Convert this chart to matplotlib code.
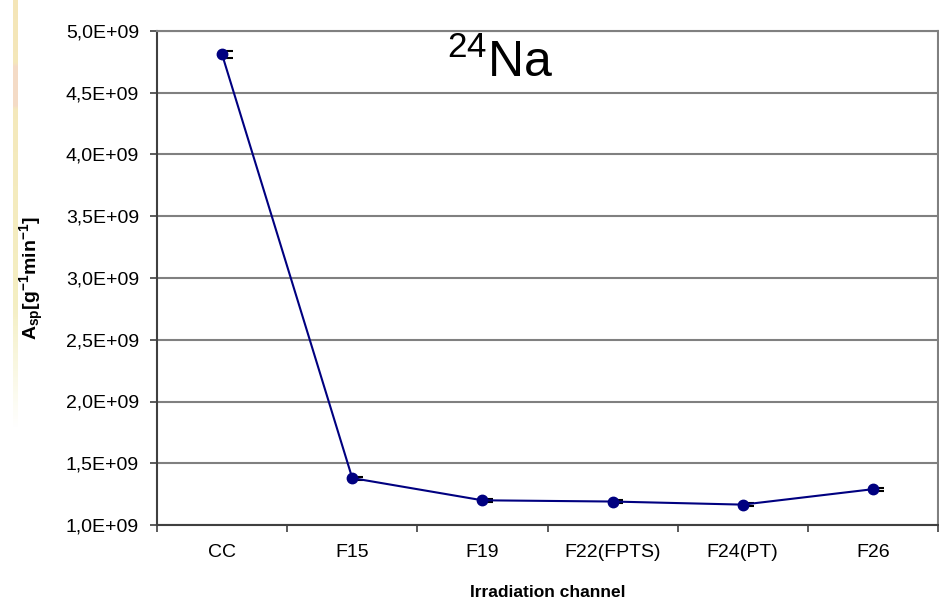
import matplotlib
matplotlib.use("Agg")
import matplotlib.pyplot as plt
import matplotlib.ticker as mtick
import numpy as np

plt.rcParams['font.family'] = ['Liberation Sans', 'DejaVu Sans']
plt.rcParams['mathtext.fontset'] = 'custom'
plt.rcParams['mathtext.rm'] = 'Liberation Sans'
plt.rcParams['mathtext.bf'] = 'Liberation Sans:bold'

# specific activity of Na-24 per irradiation channel
channels = ['CC', 'F15', 'F19', 'F22(FPTS)', 'F24(PT)', 'F26']
activity = [4.81e9, 1.38e9, 1.20e9, 1.19e9, 1.165e9, 1.29e9]
act_err = [0.03e9, 0.012e9, 0.012e9, 0.012e9, 0.012e9, 0.012e9]

y_ticks = [1.0e9, 1.5e9, 2.0e9, 2.5e9, 3.0e9, 3.5e9, 4.0e9, 4.5e9, 5.0e9]

fig = plt.figure(figsize=(9.39, 6.02), dpi=100)
ax = fig.add_axes([157 / 939, 1 - 525 / 602, 781 / 939, 494 / 602])

x = np.arange(len(channels))

# caps shifted a little to the right of the marker
ax.errorbar(x + 0.03, activity, yerr=act_err, fmt='none', ecolor='black',
            elinewidth=1.2, capsize=5, capthick=1.5, zorder=3)
ax.plot(x, activity, color='#000080', linewidth=1.5, marker='o',
        markersize=7.5, markerfacecolor='#000080', markeredgecolor='#000080', zorder=4)

ax.set_xlim(-0.5, len(channels) - 0.5)
ax.set_ylim(y_ticks[0], y_ticks[-1])

# category labels on minor ticks, tick marks between categories
ax.set_xticks(np.arange(-0.5, len(channels) + 0.5, 1.0))
ax.set_xticklabels([])
ax.set_xticks(x, minor=True)
ax.set_xticklabels(channels, minor=True)
ax.tick_params(axis='x', which='major', direction='out', length=5, width=1.2, color='#404040')
ax.tick_params(axis='x', which='minor', length=0, pad=14, labelsize=14)

ax.set_yticks(y_ticks)
ax.yaxis.set_major_formatter(mtick.FuncFormatter(lambda v, p: f"{v:.1E}".replace('.', ',')))
ax.tick_params(axis='y', direction='out', length=5, width=1.2, color='#404040', pad=8, labelsize=14)

ax.grid(True, axis='y', color='#808080', linewidth=1.5)
ax.set_axisbelow(True)

for side in ['top', 'right']:
    ax.spines[side].set_color('#808080')
    ax.spines[side].set_linewidth(1.5)
for side in ['left', 'bottom']:
    ax.spines[side].set_color('#404040')
    ax.spines[side].set_linewidth(1.5)

ax.set_xlabel('Irradiation channel', fontsize=12.5, fontweight='bold', labelpad=17)
ax.set_ylabel(r'$\mathbf{A_{sp}[g^{-1}min^{-1}]}$', fontsize=14, labelpad=14)

ax.text(0.44, 0.985, r'$\mathregular{^{24}}$Na', transform=ax.transAxes,
        fontsize=36, ha='center', va='top')

# faint decorative stripe at the left edge
stripe = fig.add_axes([13 / 939, 1 - 430 / 602, 5 / 939, 430 / 602])
grad = np.zeros((100, 1, 4))
grad[:, 0, 0] = 0.96
grad[:, 0, 1] = np.linspace(0.90, 0.95, 100)
grad[:, 0, 2] = np.linspace(0.72, 0.78, 100)
grad[:, 0, 3] = np.concatenate([np.full(70, 1.0), np.linspace(1.0, 0.0, 30)])
grad[15:25, 0, 1] = 0.86
grad[15:25, 0, 2] = 0.78
stripe.imshow(grad, aspect='auto', interpolation='bilinear')
stripe.axis('off')

fig.savefig('out.png', dpi=100)
